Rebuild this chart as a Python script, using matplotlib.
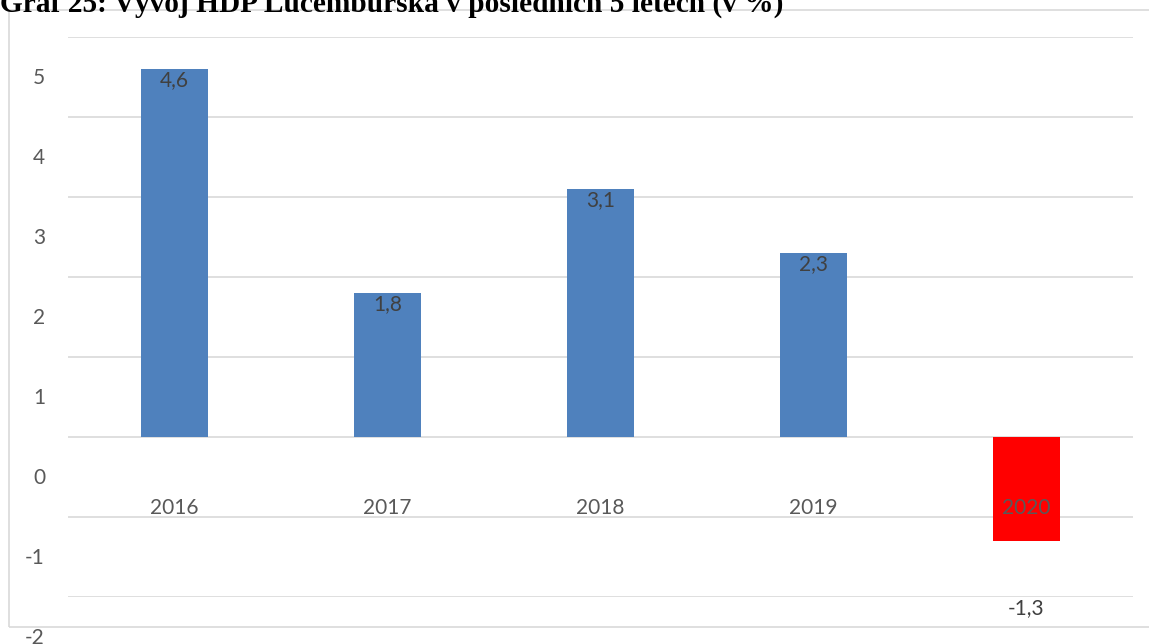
import matplotlib.pyplot as plt
from matplotlib.patches import Rectangle

years = ["2016", "2017", "2018", "2019", "2020"]
hdp = [4.6, 1.8, 3.1, 2.3, -1.3]
labels = ["4,6", "1,8", "3,1", "2,3", "-1,3"]
colors = ["#4f81bd", "#4f81bd", "#4f81bd", "#4f81bd", "#ff0000"]
yvals = [5, 4, 3, 2, 1, 0, -1, -2]

plt.rcParams['font.family'] = ['Lato', 'DejaVu Sans']

W, H = 1149, 644
fig = plt.figure(figsize=(W / 100, H / 100), dpi=100)
fig.patch.set_facecolor("white")

# chart border
fig.add_artist(Rectangle((9 / W, (H - 627) / H), 1.0, (627 - 10) / H,
                         transform=fig.transFigure, fill=False,
                         edgecolor="#d9d9d9", linewidth=1.2))

ax = fig.add_axes([68 / W, (H - 597) / H, (1133 - 68) / W, (597 - 37) / H])
ax.set_xlim(-0.5, len(years) - 0.5)
ax.set_ylim(-2, 5)
for s in ax.spines.values():
    s.set_visible(False)
ax.set_xticks([])
ax.set_yticks([])
for v in yvals:
    ax.axhline(v, color="#d9d9d9", linewidth=1.2, zorder=0)
    ax.annotate(str(v), xy=(0, v), xycoords=("axes fraction", "data"),
                xytext=(-23, -41), textcoords="offset pixels",
                ha="right", va="center", fontsize=15, color="#595959",
                annotation_clip=False)

x = range(len(years))
bars = ax.bar(x, hdp, width=0.315, color=colors, zorder=2)

for i, b in enumerate(bars):
    v = hdp[i]
    if v >= 0:
        ax.annotate(labels[i], xy=(i, v), xytext=(0, -11), textcoords="offset pixels",
                    ha="center", va="center", fontsize=15, color="#404040", zorder=4)
    else:
        ax.annotate(labels[i], xy=(i, v), xytext=(0, -67), textcoords="offset pixels",
                    ha="center", va="center", fontsize=15, color="#404040",
                    annotation_clip=False, zorder=4)
    ax.text(i, -0.89, years[i], ha="center", va="center", fontsize=15,
            color="#595959", zorder=5)

fig.text(0, 1 - 12 / H, "Graf 25: Vývoj HDP Lucemburska v posledních 5 letech (v %)",
         family=["Liberation Serif", "DejaVu Serif"], fontweight="bold",
         fontsize=21.2, ha="left", va="baseline", color="black")

fig.savefig("out.png", dpi=100)
